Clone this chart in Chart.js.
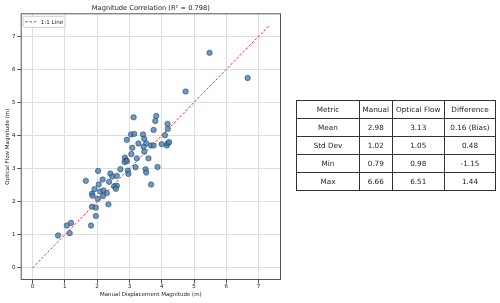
<!DOCTYPE html>
<html>
<head>
<meta charset="utf-8">
<script src="https://cdn.jsdelivr.net/npm/chart.js@4.4.1/dist/chart.umd.min.js"></script>
<style>
  html, body { margin: 0; padding: 0; background: #fff; }
  body { width: 500px; height: 303px; position: relative; overflow: hidden; font-family: "DejaVu Sans", sans-serif; }
  #chart-wrap { position: absolute; left: 0; top: 0; width: 290px; height: 303px; }
  #stats { position: absolute; left: 296px; top: 100px; width: 199px; border-collapse: collapse; table-layout: fixed; font-size: 7.25px; color: #222; opacity: 0.999; will-change: transform; -webkit-font-smoothing: antialiased; }
  #stats td { border: 1px solid #333; padding: 0; text-align: center; white-space: nowrap; }
  #stats tr { height: 18px; }
</style>
</head>
<body>
<div id="chart-wrap"><canvas id="scatter" width="290" height="303"></canvas></div>
<table id="stats">
  <colgroup><col style="width:63px"><col style="width:32.5px"><col style="width:52.5px"><col style="width:51px"></colgroup>
  <tbody></tbody>
</table>
<script>
// point data (manual vs optical flow, metres)
const manualDisp = [
  5.48, 6.66, 4.74, 3.13, 3.83, 3.80, 4.18, 3.75, 4.19, 3.05,
  3.15, 3.42, 4.10, 2.92, 3.46, 3.28, 3.52, 3.44, 3.09, 3.67,
  3.75, 4.00, 4.16, 4.19, 4.23, 3.46, 3.06, 3.23, 3.59, 2.86,
  2.90, 2.85, 2.92, 2.72, 3.19, 3.50, 3.52, 3.87, 2.95, 2.97,
  2.41, 2.47, 2.61, 2.03, 1.65, 2.37, 2.17, 2.05, 1.92, 2.10,
  2.20, 2.53, 2.61, 2.58, 3.67, 1.84, 1.86, 2.30, 2.18, 2.02,
  1.84, 1.96, 2.35, 1.96, 1.81, 1.06, 1.19, 1.15, 0.79
];
const flowMag = [
  6.50, 5.74, 5.33, 4.55, 4.59, 4.44, 4.35, 4.17, 4.20, 4.03,
  4.05, 4.03, 4.01, 3.87, 3.90, 3.76, 3.76, 3.66, 3.63, 3.70,
  3.70, 3.74, 3.70, 3.77, 3.80, 3.51, 3.44, 3.31, 3.31, 3.33,
  3.25, 3.20, 3.22, 2.98, 3.04, 2.98, 2.88, 3.05, 2.94, 2.84,
  2.85, 2.76, 2.78, 2.93, 2.63, 2.60, 2.67, 2.52, 2.38, 2.31,
  2.34, 2.47, 2.48, 2.39, 2.52, 2.24, 2.18, 2.26, 2.17, 2.09,
  1.85, 1.82, 1.92, 1.57, 1.28, 1.28, 1.36, 1.05, 0.98
];
const lineEnds = [0, 7.33];
const axisTicks = [0, 1, 2, 3, 4, 5, 6, 7];
const axisMin = -0.366;
const axisMax = 7.693;

const tableHeader = ["Metric", "Manual", "Optical Flow", "Difference"];
const metricNames = ["Mean", "Std Dev", "Min", "Max"];
const manualStats = ["2.98", "1.02", "0.79", "6.66"];
const flowStats = ["3.13", "1.05", "0.98", "6.51"];
const diffStats = ["0.16 (Bias)", "0.48", "-1.15", "1.44"];

const titleText = "Magnitude Correlation (R\u00b2 = 0.798)";
const FONT = "'DejaVu Sans', sans-serif";

// stats table
const tbody = document.querySelector("#stats tbody");
const rows = [tableHeader].concat(
  metricNames.map((m, i) => [m, manualStats[i], flowStats[i], diffStats[i]])
);
rows.forEach((row) => {
  const tr = document.createElement("tr");
  row.forEach((cell) => {
    const td = document.createElement("td");
    td.textContent = cell;
    tr.appendChild(td);
  });
  tbody.appendChild(tr);
});

// frame, title and in-plot legend, matplotlib style
const decorations = {
  id: "decorations",
  afterDatasetsDraw(chart) {
    const { ctx, chartArea: a } = chart;
    ctx.save();
    ctx.strokeStyle = "#555";
    ctx.lineWidth = 1;
    ctx.strokeRect(a.left + 0.5, a.top + 0.5, a.right - a.left - 1, a.bottom - a.top - 1);

    ctx.fillStyle = "#222";
    ctx.font = "6.7px " + FONT;
    ctx.textAlign = "center";
    ctx.textBaseline = "middle";
    ctx.fillText(titleText, (a.left + a.right) / 2, 8.3);

    const lx = a.left + 2, ly = a.top + 2.5;
    ctx.fillStyle = "rgba(255,255,255,0.85)";
    ctx.strokeStyle = "#cfcfcf";
    ctx.beginPath();
    ctx.roundRect(lx + 0.5, ly + 0.5, 42, 11, 1.5);
    ctx.fill();
    ctx.stroke();

    const line = chart.data.datasets[1];
    ctx.strokeStyle = line.borderColor;
    ctx.lineWidth = line.borderWidth;
    ctx.setLineDash(line.borderDash);
    ctx.beginPath();
    ctx.moveTo(lx + 2.5, ly + 6);
    ctx.lineTo(lx + 14.5, ly + 6);
    ctx.stroke();
    ctx.setLineDash([]);

    ctx.fillStyle = "#222";
    ctx.font = "5.6px " + FONT;
    ctx.textAlign = "left";
    ctx.fillText(line.label, lx + 18, ly + 6.3);
    ctx.restore();
  },
};

const fixedTicks = (scale) => {
  scale.ticks = axisTicks.map((v) => ({ value: v }));
};

new Chart(document.getElementById("scatter"), {
  type: "scatter",
  data: {
    datasets: [
      {
        label: "Points",
        data: manualDisp.map((x, i) => ({ x: x, y: flowMag[i] })),
        backgroundColor: "rgba(70,130,180,0.8)",
        borderColor: "rgba(30,55,85,0.9)",
        borderWidth: 0.6,
        pointRadius: 2.7,
      },
      {
        type: "line",
        label: "1:1 Line",
        data: lineEnds.map((v) => ({ x: v, y: v })),
        borderColor: "rgba(255,0,0,0.85)",
        borderWidth: 1,
        borderDash: [2.5, 1.8],
        pointRadius: 0,
        fill: false,
      },
    ],
  },
  options: {
    responsive: false,
    animation: false,
    layout: { padding: { top: 13.3, right: 9, bottom: 0, left: 0 } },
    plugins: {
      legend: { display: false },
      title: { display: false },
      tooltip: { enabled: false },
    },
    scales: {
      x: {
        type: "linear",
        min: axisMin,
        max: axisMax,
        afterBuildTicks: fixedTicks,
        afterFit: (scale) => { scale.height = 23; },
        grid: { color: "#dedede", lineWidth: 1, tickLength: 3.5, tickColor: "#555" },
        border: { display: false },
        ticks: { color: "#222", padding: 0, font: { family: FONT, size: 5.6 } },
        title: {
          display: true,
          text: "Manual Displacement Magnitude (m)",
          color: "#222",
          font: { family: FONT, size: 5.5 },
          padding: { top: 0, bottom: 5.3 },
        },
      },
      y: {
        type: "linear",
        min: axisMin,
        max: axisMax,
        afterBuildTicks: fixedTicks,
        afterFit: (scale) => { scale.width = 20.7; },
        grid: { color: "#dedede", lineWidth: 1, tickLength: 3.5, tickColor: "#555" },
        border: { display: false },
        ticks: { color: "#222", padding: 1.7, font: { family: FONT, size: 5.6 } },
        title: {
          display: true,
          text: "Optical Flow Magnitude (m)",
          color: "#222",
          font: { family: FONT, size: 5.5 },
          padding: { top: 4.7, bottom: 0 },
        },
      },
    },
  },
  plugins: [decorations],
});
</script>
</body>
</html>
